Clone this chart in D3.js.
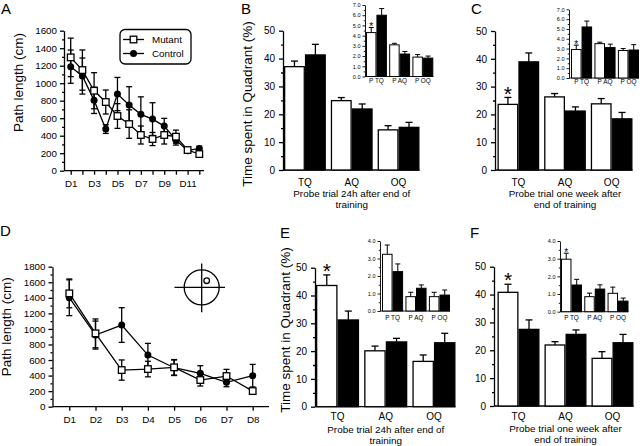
<!DOCTYPE html>
<html><head><meta charset="utf-8">
<script src="https://cdn.jsdelivr.net/npm/d3@7/dist/d3.min.js"></script>
<style>
body{margin:0;background:#fff}
svg{display:block;font-family:"Liberation Sans",Arial,sans-serif}
</style>
</head><body>
<svg id="c" width="640" height="446"></svg>
<script>
// ---------------- DATA ----------------
const daysA = ["D1","D2","D3","D4","D5","D6","D7","D8","D9","D10","D11","D12"];
const labelsA = ["D1","D3","D5","D7","D9","D11"];
const mutantA = [1295,1150,914,785,625,533,408,362,408,389,236,190];
const mutantAErr = [220,230,206,137,141,163,103,75,103,75,25,25];
const controlA = [1189,1082,804,476,876,750,644,590,510,350,229,255];
const controlAErr = [190,206,150,50,190,210,200,187,88,57,20,25];
const yTicksA = [0,200,400,600,800,1000,1200,1400,1600];

const daysD = ["D1","D2","D3","D4","D5","D6","D7","D8"];
const mutantD = [1457,943,471,484,506,343,394,201];
const mutantDErr = [185,185,130,100,100,77,86,22];
const controlD = [1401,921,1050,664,501,429,313,399];
const controlDErr = [230,180,223,150,100,98,56,145];
const yTicksD = [0,200,400,600,800,1000,1200,1400,1600,1800];

const quadrants = ["TQ","AQ","OQ"];
const insetCats = ["P TQ","P AQ","P OQ"];
const yTicksBar = [0,10,20,30,40,50];

const mutantB = [37.1,24.9,14.4], mutantBErr = [2.0,1.1,1.5];
const controlB = [41.3,21.9,15.3], controlBErr = [3.8,1.8,1.8];
const mutantC = [23.6,26.3,23.8], mutantCErr = [2.5,1.2,1.9];
const controlC = [38.9,21.2,18.4], controlCErr = [3.2,1.5,2.3];
const mutantE = [43.6,20.1,16.3], mutantEErr = [3.8,1.7,2.3];
const controlE = [31.2,23.3,23.0], controlEErr = [3.2,1.3,3.4];
const mutantF = [40.8,21.9,17.1], mutantFErr = [2.9,1.2,2.4];
const controlF = [27.5,25.7,22.7], controlFErr = [3.4,1.6,3.0];

const mutantBi = [4.3,3.1,1.9], mutantBiErr = [0.5,0.15,0.25];
const controlBi = [6.0,2.2,1.8], controlBiErr = [0.65,0.25,0.2];
const mutantCi = [2.9,3.5,2.8], mutantCiErr = [0.45,0.15,0.2];
const controlCi = [5.2,3.1,2.85], controlCiErr = [0.6,0.35,0.55];
const mutantEi = [3.24,0.82,0.82], mutantEiErr = [0.53,0.25,0.25];
const controlEi = [2.25,1.3,0.91], controlEiErr = [0.44,0.19,0.29];
const mutantFi = [2.97,0.85,1.04], mutantFiErr = [0.34,0.2,0.35];
const controlFi = [1.51,1.28,0.6], controlFiErr = [0.32,0.24,0.17];
const yTicksInset7 = [0,1,2,3,4,5,6,7];
const yTicksInset4 = [0,1,2,3,4];

const seriesNames = ["Mutant","Control"];

// ---------------- DRAWING ----------------
const svg = d3.select("#c");
const SW = 1.3;

function text(g, x, y, s, size, anchor, rot) {
  const t = g.append("text").attr("x", x).attr("y", y).attr("font-size", size)
    .attr("text-anchor", anchor || "middle").attr("fill", "#000").text(s);
  if (rot) t.attr("transform", `rotate(-90,${x},${y})`);
  return t;
}

function styleAxis(a, fs) {
  a.attr("font-family", null).attr("font-size", null);
  a.selectAll("line,path").attr("stroke", "#000").attr("stroke-width", SW);
  a.selectAll("text").attr("font-size", fs).attr("fill", "#000");
}

function lineChart(o) {
  const g = svg.append("g");
  const x = d3.scalePoint().domain(o.days).range([o.x0, o.x1]);
  const y = d3.scaleLinear().domain([0, o.ymax]).range([o.yb, o.yt]);
  const minor = d3.range(100, o.ymax, 200);
  const ya = g.append("g").attr("transform", `translate(${o.ax},0)`)
    .call(d3.axisLeft(y).tickValues(o.yTicks).tickSize(4).tickSizeOuter(0).tickPadding(3).tickFormat(d3.format("d")));
  styleAxis(ya, 9.8);
  const ym = g.append("g").attr("transform", `translate(${o.ax},0)`)
    .call(d3.axisLeft(y).tickValues(minor).tickSize(2).tickFormat(""));
  ym.select(".domain").remove(); styleAxis(ym, 9.8);
  const xa = g.append("g").attr("transform", `translate(0,${o.yb})`)
    .call(d3.axisBottom(x).tickSize(4).tickPadding(5).tickFormat(d => o.xLabels.includes(d) ? d : ""));
  xa.select(".domain").remove(); styleAxis(xa, 9.8);
  g.append("line").attr("x1", o.ax).attr("x2", o.xEnd).attr("y1", o.yb).attr("y2", o.yb)
    .attr("stroke", "#000").attr("stroke-width", SW);

  const line = d3.line().x((d, i) => x(o.days[i])).y(d => y(d));
  [o.control, o.mutant].forEach(s => g.append("path").attr("d", line(s))
    .attr("fill", "none").attr("stroke", "#000").attr("stroke-width", SW));
  [[o.control, o.controlErr], [o.mutant, o.mutantErr]].forEach(([v, e]) => {
    v.forEach((val, i) => {
      const cx = x(o.days[i]);
      const eg = g.append("g").attr("stroke", "#000").attr("stroke-width", SW);
      eg.append("line").attr("x1", cx).attr("x2", cx).attr("y1", y(val - e[i])).attr("y2", y(val + e[i]));
      [val - e[i], val + e[i]].forEach(yy => eg.append("line").attr("x1", cx - 3).attr("x2", cx + 3).attr("y1", y(yy)).attr("y2", y(yy)));
    });
  });
  o.control.forEach((v, i) => g.append("circle").attr("cx", x(o.days[i])).attr("cy", y(v)).attr("r", 3.5).attr("fill", "#000"));
  o.mutant.forEach((v, i) => g.append("rect").attr("x", x(o.days[i]) - 3.3).attr("y", y(v) - 3.3)
    .attr("width", 6.6).attr("height", 6.6).attr("fill", "#fff").attr("stroke", "#000").attr("stroke-width", SW));
  text(g, o.labX, o.labY, "Path length (cm)", 13.5, "middle", true);
  text(g, o.letX, o.letY, o.letter, 15, "start");
  return g;
}

function barChart(o) {
  const g = svg.append("g");
  const x0 = d3.scaleBand().domain(o.cats).range([o.r0, o.r1]).paddingInner(o.pad);
  const x1 = d3.scaleBand().domain(seriesNames).range([0, x0.bandwidth()]);
  const y = d3.scaleLinear().domain([0, o.ymax]).range([o.yb, o.yt]);
  const ya = g.append("g").attr("transform", `translate(${o.ax},0)`)
    .call(d3.axisLeft(y).tickValues(o.yTicks).tickSize(o.tick).tickSizeOuter(0).tickPadding(o.tpad));
  styleAxis(ya, o.tfs);
  if (o.inset) ya.selectAll("line,path").attr("stroke-width", 0.9);
  const minor = o.yTicks.slice(1).map((t, i) => (t + o.yTicks[i]) / 2);
  const ym = g.append("g").attr("transform", `translate(${o.ax},0)`)
    .call(d3.axisLeft(y).tickValues(minor).tickSize(o.tick / 2).tickFormat(""));
  ym.select(".domain").remove(); styleAxis(ym, o.tfs);
  if (o.inset) ym.selectAll("line").attr("stroke-width", 0.9);
  g.append("line").attr("x1", o.ax).attr("x2", o.r1).attr("y1", o.yb).attr("y2", o.yb)
    .attr("stroke", "#000").attr("stroke-width", o.inset ? 0.9 : SW);
  const sw = o.inset ? 1.0 : SW;
  const cap = o.inset ? 2.5 : 3.5;
  [[o.mutant, o.mutantErr, "Mutant"], [o.control, o.controlErr, "Control"]].forEach(([v, e, nm]) => {
    v.forEach((val, i) => {
      const bx = x0(o.cats[i]) + x1(nm), bw = x1.bandwidth();
      const cx = bx + bw / 2;
      const eg = g.append("g").attr("stroke", "#000").attr("stroke-width", sw);
      eg.append("line").attr("x1", cx).attr("x2", cx).attr("y1", y(val)).attr("y2", y(val + e[i]));
      eg.append("line").attr("x1", cx - cap).attr("x2", cx + cap).attr("y1", y(val + e[i])).attr("y2", y(val + e[i]));
      g.append("rect").attr("x", bx + sw / 2).attr("y", y(val)).attr("width", bw - sw).attr("height", o.yb - y(val))
        .attr("fill", nm === "Mutant" ? "#fff" : "#000").attr("stroke", "#000").attr("stroke-width", sw);
    });
  });
  o.cats.forEach(c => text(g, x0(c) + x0.bandwidth() / 2, o.catY, c, o.cfs));
  if (o.star) {
    const i = 0, val = o.mutant[i] + o.mutantErr[i];
    const cx = x0(o.cats[i]) + x1("Mutant") + x1.bandwidth() / 2;
    text(g, cx, y(val) - o.starGap + 0.58 * o.starFs, "*", o.starFs);
  }
  const mid = (o.r0 + o.r1) / 2;
  if (o.sub) o.sub.forEach((s, k) => text(g, mid, o.subY + k * 11, s, 9.9));
  if (o.ylab) text(g, o.labX, o.labY, "Time spent in Quadrant (%)", 13.5, "middle", true);
  if (o.letter) text(g, o.letX, o.letY, o.letter, 15, "start");
  return g;
}

// Panel A
const gA = lineChart({days: daysA, xLabels: labelsA, mutant: mutantA, mutantErr: mutantAErr, control: controlA, controlErr: controlAErr,
  yTicks: yTicksA, ymax: 1600, ax: 64, yb: 170.7, yt: 30.7, x0: 70.7, x1: 199.3, xEnd: 204,
  labX: 23, labY: 82.5, letter: "A", letX: 1, letY: 14});
const lg = gA.append("g");
lg.append("rect").attr("x", 120).attr("y", 29.5).attr("width", 71).attr("height", 34.5).attr("rx", 5)
  .attr("fill", "#fff").attr("stroke", "#000").attr("stroke-width", SW);
[["Mutant", 39.5], ["Control", 53.5]].forEach(([nm, yy]) => {
  lg.append("line").attr("x1", 123).attr("x2", 144).attr("y1", yy).attr("y2", yy).attr("stroke", "#000").attr("stroke-width", SW);
  if (nm === "Mutant") lg.append("rect").attr("x", 130.2).attr("y", yy - 3.3).attr("width", 6.6).attr("height", 6.6)
    .attr("fill", "#fff").attr("stroke", "#000").attr("stroke-width", SW);
  else lg.append("circle").attr("cx", 133.5).attr("cy", yy).attr("r", 3.5).attr("fill", "#000");
  text(lg, 152, yy + 3.5, nm, 9.8, "start");
});

// Panel D
const gD = lineChart({days: daysD, xLabels: daysD, mutant: mutantD, mutantErr: mutantDErr, control: controlD, controlErr: controlDErr,
  yTicks: yTicksD, ymax: 1800, ax: 52.5, yb: 406.7, yt: 266.7, x0: 69.3, x1: 252.7, xEnd: 269,
  labX: 11, labY: 326.7, letter: "D", letX: 0, letY: 236});
const tg = gD.append("g").attr("fill", "none").attr("stroke", "#000").attr("stroke-width", SW);
tg.append("circle").attr("cx", 201.7).attr("cy", 287.3).attr("r", 17.5);
tg.append("line").attr("x1", 174.5).attr("x2", 225).attr("y1", 287.3).attr("y2", 287.3);
tg.append("line").attr("x1", 201.7).attr("x2", 201.7).attr("y1", 263.5).attr("y2", 312.3);
tg.append("circle").attr("cx", 206.7).attr("cy", 280.7).attr("r", 2.8);

const mainCommon = {cats: quadrants, ymax: 50, yTicks: yTicksBar, pad: 0.106, tick: 4, tpad: 4, tfs: 10, cfs: 10, starFs: 21, starGap: 9};
const insetCommon = {cats: insetCats, pad: 0.1, tick: 2.5, tpad: 2, tfs: 5.5, cfs: 6.4, starFs: 10, starGap: 3, inset: true};

barChart(Object.assign({}, mainCommon, {mutant: mutantB, mutantErr: mutantBErr, control: controlB, controlErr: controlBErr,
  ax: 283, yb: 170, yt: 30.7, r0: 284, r1: 419.5, catY: 185.6, sub: ["Probe trial 24h after end of", "training"], subY: 196.5,
  ylab: true, labX: 252.3, labY: 104, letter: "B", letX: 241, letY: 13.5}));
barChart(Object.assign({}, insetCommon, {mutant: mutantBi, mutantErr: mutantBiErr, control: controlBi, controlErr: controlBiErr,
  ymax: 7, yTicks: yTicksInset7, ax: 365, yb: 76.5, yt: 5, r0: 366, r1: 433.3, catY: 83, star: true}));

barChart(Object.assign({}, mainCommon, {mutant: mutantC, mutantErr: mutantCErr, control: controlC, controlErr: controlCErr,
  ax: 495, yb: 170, yt: 31, r0: 497.5, r1: 632.5, catY: 185.6, sub: ["Probe trial one week after", "end of training"], subY: 196.5,
  star: true, letter: "C", letX: 471, letY: 13.5}));
barChart(Object.assign({}, insetCommon, {mutant: mutantCi, mutantErr: mutantCiErr, control: controlCi, controlErr: controlCiErr,
  ymax: 7, yTicks: yTicksInset7, ax: 569, yb: 78, yt: 9.3, r0: 571, r1: 639, catY: 84, star: true}));

barChart(Object.assign({}, mainCommon, {mutant: mutantE, mutantErr: mutantEErr, control: controlE, controlErr: controlEErr,
  ax: 315, yb: 406.7, yt: 267.7, r0: 316, r1: 455.5, catY: 420.3, sub: ["Probe trial 24h after end of", "training"], subY: 432.5,
  star: true, ylab: true, labX: 289.7, labY: 330, letter: "E", letX: 280, letY: 238}));
barChart(Object.assign({}, insetCommon, {mutant: mutantEi, mutantErr: mutantEiErr, control: controlEi, controlErr: controlEiErr,
  ymax: 4, yTicks: yTicksInset4, ax: 380, yb: 311, yt: 241, r0: 382, r1: 450, catY: 319.8}));

barChart(Object.assign({}, mainCommon, {mutant: mutantF, mutantErr: mutantFErr, control: controlF, controlErr: controlFErr,
  ax: 494, yb: 406, yt: 266.7, r0: 497.5, r1: 633.5, catY: 420.3, sub: ["Probe trial one week after", "end of training"], subY: 431.8,
  star: true, letter: "F", letX: 470, letY: 237.5}));
barChart(Object.assign({}, insetCommon, {mutant: mutantFi, mutantErr: mutantFiErr, control: controlFi, controlErr: controlFiErr,
  ymax: 4, yTicks: yTicksInset4, ax: 560, yb: 311.7, yt: 241, r0: 561, r1: 628.5, catY: 320, star: true}));
</script>
</body></html>
